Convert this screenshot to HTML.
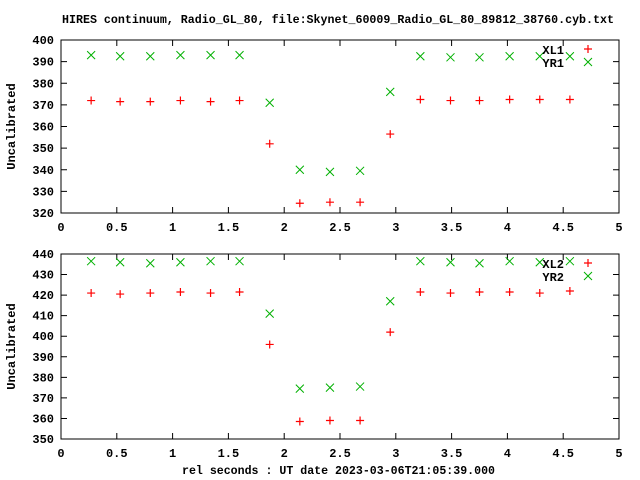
<!DOCTYPE html>
<html><head><meta charset="utf-8"><style>
body{margin:0;background:#fff}
svg{display:block;font-family:"Liberation Mono",monospace;font-weight:bold;font-size:12px}
</style></head><body>
<svg id="c" width="640" height="480">
<text x="62" y="23" font-size="12" textLength="552" lengthAdjust="spacingAndGlyphs">HIRES continuum, Radio_GL_80, file:Skynet_60009_Radio_GL_80_89812_38760.cyb.txt</text>
<text x="182" y="474" font-size="12" textLength="313" lengthAdjust="spacingAndGlyphs">rel seconds : UT date 2023-03-06T21:05:39.000</text>
</svg>
<script>
const xs=[0.27,0.53,0.80,1.07,1.34,1.60,1.87,2.14,2.41,2.68,2.95,3.22,3.49,3.75,4.02,4.29,4.56];
const xl1=[372,371.5,371.5,372,371.5,372,352,324.5,325,325,356.5,372.5,372,372,372.5,372.5,372.5];
const yr1=[393,392.5,392.5,393,393,393,371,340,339,339.5,376,392.5,392,392,392.5,392.5,392.5];
const xl2=[421,420.5,421,421.5,421,421.5,396,358.5,359,359,402,421.5,421,421.5,421.5,421,422];
const yr2=[436.5,436,435.5,436,436.5,436.5,411,374.5,375,375.5,417,436.5,436,435.5,436.5,436,436.5];
const xTicks=[0,0.5,1,1.5,2,2.5,3,3.5,4,4.5,5];
const xTickLabels=["0","0.5","1","1.5","2","2.5","3","3.5","4","4.5","5"];
const yTicks1=[320,330,340,350,360,370,380,390,400];
const yTicks2=[350,360,370,380,390,400,410,420,430,440];
const NS="http://www.w3.org/2000/svg";
const svg=document.getElementById('c');
function mk(t,a,txt){const e=document.createElementNS(NS,t);for(const k in a)e.setAttribute(k,a[k]);if(txt!==undefined)e.textContent=txt;svg.appendChild(e);return e;}
const L=61,R=619;
function panel(top,bot,ymin,ymax,yt,A,B,na,nb,idx){
  const sx=v=>L+(v-0)/5*(R-L);
  const sy=v=>bot-(v-ymin)/(ymax-ymin)*(bot-top);
  const f=mk('rect',{x:L,y:top,width:R-L,height:bot-top,fill:'none',stroke:'#000','stroke-width':1});
  
  
  xTicks.forEach((v,i)=>{const x=sx(v);
    const t=mk('path',{d:`M${x},${bot}v-6M${x},${top}v6`,stroke:'#000'});
    
    
    const l=mk('text',{x:x,y:bot+18,'text-anchor':'middle'},xTickLabels[i]);
    
    });
  yt.forEach(v=>{const y=sy(v);
    const t=mk('path',{d:`M${L},${y}h6M${R},${y}h-6`,stroke:'#000'});
    
    
    const l=mk('text',{x:54,y:y+4,'text-anchor':'end'},String(v));
    
    });
  const yl=mk('text',{x:15,y:(top+bot)/2,'text-anchor':'middle',transform:`rotate(-90 15 ${(top+bot)/2})`},'Uncalibrated');
  
  
  const plus=(x,y,c)=>mk('path',{d:`M${x-4},${y}h8M${x},${y-4}v8`,stroke:c,'stroke-width':1.2,fill:'none'});
  const cross=(x,y,c)=>mk('path',{d:`M${x-4},${y-4}l8,8M${x-4},${y+4}l8,-8`,stroke:c,'stroke-width':1,fill:'none'});
  B.forEach((v,i)=>{const p=cross(sx(xs[i]),sy(v),'#00b000');
    
    });
  A.forEach((v,i)=>{const p=plus(sx(xs[i]),sy(v),'#ff0000');
    
    });
  const ly=top+10;
  const t1=mk('text',{x:564,y:ly+4,'text-anchor':'end'},na);
  
  
  const m1=plus(588,ly-1,'#ff0000');
  
  
  const t2=mk('text',{x:564,y:ly+17,'text-anchor':'end'},nb);
  
  
  const m2=cross(588,ly+12,'#00b000');
  
  
}
panel(40,213,320,400,yTicks1,xl1,yr1,'XL1','YR1',1);
panel(254,439,350,440,yTicks2,xl2,yr2,'XL2','YR2',2);
</script>
</body></html>
